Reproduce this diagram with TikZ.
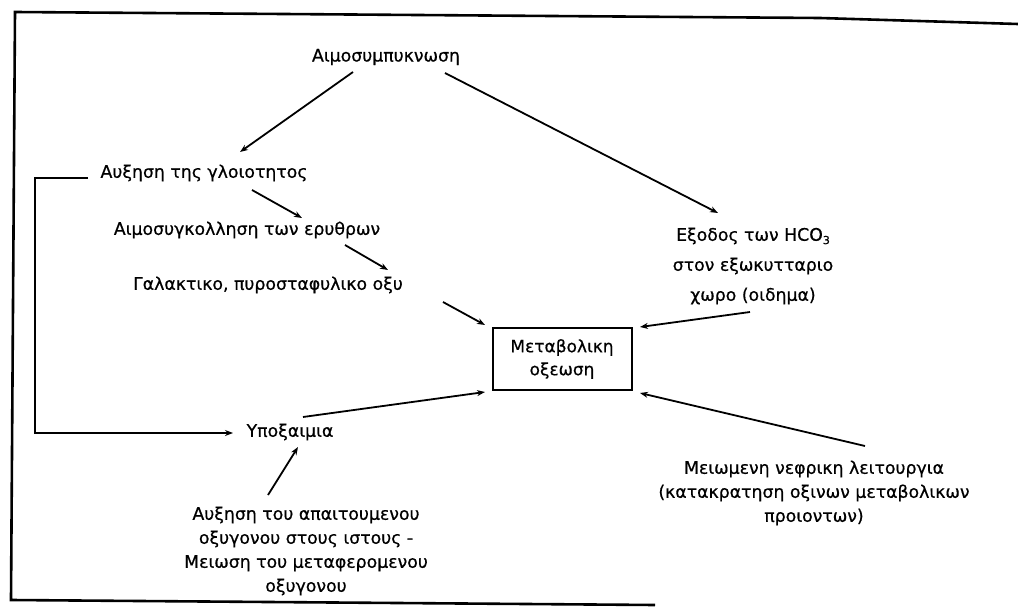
\documentclass[tikz,border=0pt]{standalone}
\usepackage{fontspec}
\setmainfont{DejaVu Sans}[FakeBold=0.6]
\newfontfamily\heavy{DejaVu Sans}[FakeBold=0.6]
\usetikzlibrary{arrows.meta,calc}
\begin{document}
\begin{tikzpicture}[x=1pt,y=-1pt,
  lbl/.style={inner sep=0pt,align=center,font=\heavy\fontsize{17.3}{24}\selectfont},
  lblwide/.style={inner sep=0pt,align=center,font=\heavy\fontsize{17.3}{30}\selectfont},
  boxnode/.style={draw,line width=2pt,minimum width=139pt,minimum height=62pt,inner sep=0pt,align=center,font=\heavy\fontsize{17}{23}\selectfont},
  arr/.style={line width=1.8pt,-{Stealth[length=8pt,width=6pt]}},
  frame/.style={line width=2.6pt}]
\useasboundingbox (0,0) rectangle (1018,607);
% frame
\coordinate (ftl) at (15,12);
\coordinate (ftm) at (820,18);
\coordinate (ftr) at (1018,24);
\coordinate (fbl) at (11,600);
\coordinate (fbr) at (655,605);
\draw[frame] (ftr) -- (ftm) -- (ftl) -- (fbl) -- (fbr);
% nodes
\node[lbl] (hemo) at (386,57) {Αιμοσυμπυκνωση};
\node[lbl] (visc) at (204,173) {Αυξηση της γλοιοτητος};
\node[lbl] (aggl) at (247,230) {Αιμοσυγκολληση των ερυθρων};
\node[lbl] (lact) at (268,285) {Γαλακτικο, πυροσταφυλικο οξυ};
\node[lblwide] (hco) at (753,266) {Εξοδος των HCO\raisebox{-0.35ex}{\fontsize{11}{11}\selectfont 3}\\στον εξωκυτταριο\\χωρο (οιδημα)};
\node[boxnode] (box) at (562,359) {Μεταβολικη\\οξεωση};
\node[lbl] (hypox) at (290,432) {Υποξαιμια};
\node[lbl] (oxy) at (306,551) {Αυξηση του απαιτουμενου\\οξυγονου στους ιστους -\\Μειωση του μεταφερομενου\\οξυγονου};
\node[lbl] (renal) at (814,493) {Μειωμενη νεφρικη λειτουργια\\(κατακρατηση οξινων μεταβολικων\\προιοντων)};
% connectors
\draw[arr] ([shift={(-33,15)}]hemo.center) -- ([shift={(36,-21)}]visc.center);
\draw[arr] ([shift={(59,16)}]hemo.center) -- ([shift={(-35,-53)}]hco.center);
\draw[arr] ([shift={(48,17)}]visc.center) -- ([shift={(55,-12)}]aggl.center);
\draw[arr] ([shift={(98,15)}]aggl.center) -- ([shift={(120,-15)}]lact.center);
\draw[arr] ([shift={(175,17)}]lact.center) -- ([shift={(-77,-34)}]box.center);
\draw[arr] ([shift={(-3,46)}]hco.center) -- ([shift={(78,-32)}]box.center);
\draw[arr] ([shift={(13,-15)}]hypox.center) -- ([shift={(-77,33)}]box.center);
\draw[arr] ([shift={(-38,-56)}]oxy.center) -- ([shift={(8,15)}]hypox.center);
\draw[arr] ([shift={(51,-47)}]renal.center) -- ([shift={(78,34)}]box.center);
\coordinate (loopx) at (35,300);
\draw[arr] ([shift={(-116,5)}]visc.center) -| (loopx) |- ([shift={(-57,1)}]hypox.center);
\end{tikzpicture}
\end{document}
